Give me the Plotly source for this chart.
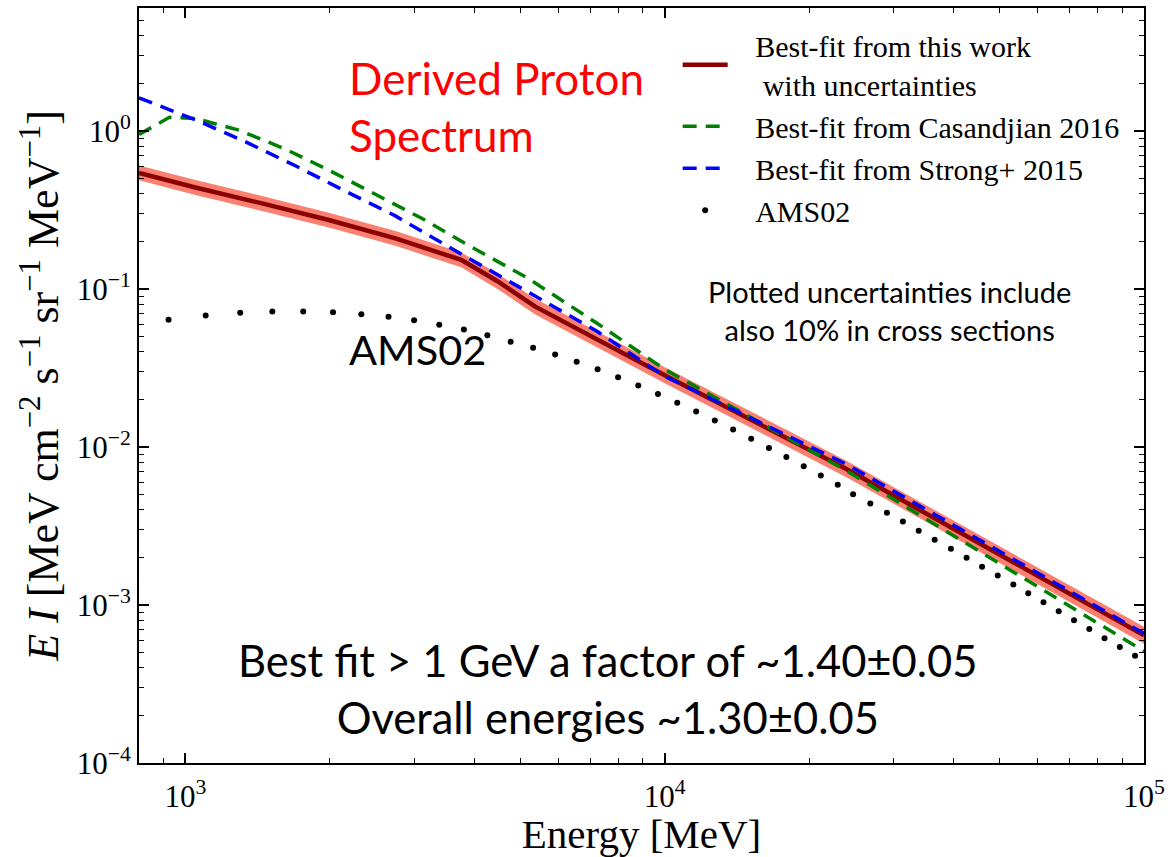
import plotly.graph_objects as go

# ---------------- data ----------------
# Best fit from this work (dark red line) with uncertainty band
fit_E = [800, 1054, 1445, 1991, 2743, 3761, 4488, 5358, 10000, 23930, 100000]
fit_V = [0.543, 0.437, 0.348, 0.273, 0.209, 0.1528, 0.1115, 0.0776, 0.02846, 0.00726, 0.000643]
fit_hi = [0.605, 0.487, 0.388, 0.304, 0.233, 0.1704, 0.1247, 0.0869, 0.0320, 0.00819, 0.000727]
fit_lo = [0.487, 0.392, 0.312, 0.245, 0.1874, 0.1370, 0.0997, 0.0693, 0.0253, 0.00644, 0.000569]

# Casandjian 2016 (green dashed)
cas_E = [800, 926, 1053, 1295, 1619, 2023, 2508, 3111, 3828, 5180, 7222, 10000, 23900, 100000]
cas_V = [0.95, 1.22, 1.196, 1.01, 0.766, 0.551, 0.393, 0.280, 0.1945, 0.117, 0.0607, 0.031, 0.0071, 0.00051]

# Strong+ 2015 (blue dashed)
str_E = [800, 1054, 1339, 1700, 2159, 2742, 3483, 4706, 7222, 10000, 23900, 100000]
str_V = [1.62, 1.17, 0.85, 0.60, 0.415, 0.29, 0.19, 0.113, 0.054, 0.028, 0.0078, 0.00066]

# AMS02 points (black dots)
ams_E = [922, 1102, 1301, 1518, 1761, 2032, 2328, 2653, 3000, 3385, 3810, 4265, 4769,
         5314, 5906, 6550, 7244, 7993, 8807, 9680, 10620, 11630, 12720, 13890, 15150,
         16500, 17940, 19500, 21170, 22960,
         24720, 26850, 29080, 31400, 33880, 36580, 39550, 42640, 45930, 49520, 53380,
         57340, 61700, 66380, 71450, 76890, 82730, 89030, 95790]
ams_V = [0.0639, 0.0680, 0.0708, 0.0721, 0.0721, 0.0711, 0.0693, 0.0668, 0.0633, 0.0594,
         0.0553, 0.0509, 0.0464,
         0.04243, 0.03845, 0.03463, 0.03101, 0.02761, 0.02447, 0.02163, 0.01906, 0.01675,
         0.01470, 0.01288, 0.01126, 0.00987, 0.00864, 0.00754, 0.00659, 0.00576,
         0.005029, 0.004389, 0.003834, 0.003379, 0.002951, 0.002589, 0.002272, 0.001994,
         0.001749, 0.001535, 0.001347, 0.001187, 0.001041, 0.000914, 0.000802, 0.000704,
         0.000617, 0.000542, 0.000478]

x_ticks = [1e3, 1e4, 1e5]
x_ticktext = ["10<sup>3</sup>", "10<sup>4</sup>", "10<sup>5</sup>"]
y_ticks = [1e-4, 1e-3, 1e-2, 1e-1, 1e0]
y_ticktext = ["10<sup>−4</sup>", "10<sup>−3</sup>", "10<sup>−2</sup>", "10<sup>−1</sup>", "10<sup>0</sup>"]

x_minor = [900] + [m * 1e3 for m in range(2, 10)] + [m * 1e4 for m in range(2, 10)]
y_minor = [m * 10.0 ** e for e in range(-4, 0) for m in range(2, 10)] + [2, 3, 4, 5]

SERIF = "Liberation Serif, Times New Roman, serif"
SANS = "Lato, Open Sans, sans-serif"
PAD = "\u00a0\u00a0\u00a0"

fig = go.Figure()

# uncertainty band
fig.add_trace(go.Scatter(x=fit_E, y=fit_lo, mode="lines", line=dict(width=0, color="salmon"),
                         showlegend=False, hoverinfo="skip"))
fig.add_trace(go.Scatter(x=fit_E, y=fit_hi, mode="lines", line=dict(width=0, color="salmon"),
                         fill="tonexty", fillcolor="salmon", showlegend=False, hoverinfo="skip"))
fig.add_trace(go.Scatter(x=fit_E, y=fit_V, mode="lines", line=dict(color="#8B0000", width=4.5),
                         name=PAD + "Best-fit from this work<br>" + PAD + "\u00a0with uncertainties"))
fig.add_trace(go.Scatter(x=cas_E, y=cas_V, mode="lines",
                         line=dict(color="green", width=3.5, dash="14px,9px"),
                         name=PAD + "Best-fit from Casandjian 2016"))
fig.add_trace(go.Scatter(x=str_E, y=str_V, mode="lines",
                         line=dict(color="blue", width=3.5, dash="14px,9px"),
                         name=PAD + "Best-fit from Strong+ 2015"))
fig.add_trace(go.Scatter(x=ams_E, y=ams_V, mode="markers",
                         marker=dict(color="black", size=6),
                         name=PAD + "AMS02"))

axis_common = dict(
    type="log", showline=True, linecolor="black", linewidth=2, mirror="ticks",
    ticks="inside", ticklen=10, tickwidth=1.5, tickcolor="black", showgrid=False,
    zeroline=False, tickfont=dict(family=SERIF, size=31, color="black"),
)

fig.update_xaxes(**axis_common, range=[2.90309, 5], tickmode="array", tickvals=x_ticks,
                 ticktext=x_ticktext, ticklabelstandoff=5,
                 minor=dict(tickmode="array", tickvals=x_minor, ticks="inside", ticklen=5,
                            tickwidth=1, tickcolor="black", showgrid=False),
                 title=dict(text="Energy [MeV]", font=dict(family=SERIF, size=41, color="black"),
                            standoff=7))
fig.update_yaxes(**axis_common, range=[-4, 0.77815], tickmode="array", tickvals=y_ticks,
                 ticktext=y_ticktext,
                 minor=dict(tickmode="array", tickvals=y_minor, ticks="inside", ticklen=5,
                            tickwidth=1, tickcolor="black", showgrid=False),
                 title=dict(text="<i>E I</i> [MeV cm<sup>−2</sup> s<sup>−1</sup> sr<sup>−1</sup> MeV<sup>−1</sup>]",
                            font=dict(family=SERIF, size=44, color="black"), standoff=4))

annotations = [
    dict(text="Derived Proton<br>Spectrum", x=0.207, y=0.869, xanchor="left", yanchor="middle",
         align="left", font=dict(family=SANS, size=44, color="red")),
    dict(text="AMS02", x=0.207, y=0.548, xanchor="left", yanchor="middle",
         font=dict(family=SANS, size=41.5, color="black")),
    dict(text="Plotted uncertainties include<br>also 10% in cross sections", x=0.7465, y=0.5998,
         xanchor="center", yanchor="middle", align="center",
         font=dict(family=SANS, size=29, color="black")),
    dict(text="Best fit > 1 GeV a factor of ~1.40±0.05<br>Overall energies ~1.30±0.05",
         x=0.4663, y=0.099, xanchor="center", yanchor="middle", align="center",
         font=dict(family=SANS, size=43.5, color="black")),
]
for a in annotations:
    a.update(xref="paper", yref="paper", showarrow=False)

fig.update_layout(
    width=1171, height=857,
    margin=dict(l=139, r=22, t=6, b=94),
    plot_bgcolor="white", paper_bgcolor="white",
    annotations=annotations,
    legend=dict(x=0.536, y=0.985, xanchor="left", yanchor="top", bgcolor="rgba(0,0,0,0)",
                traceorder="normal",
                font=dict(family=SERIF, size=30, color="black"), itemwidth=45),
)

fig.write_html("out.html")
